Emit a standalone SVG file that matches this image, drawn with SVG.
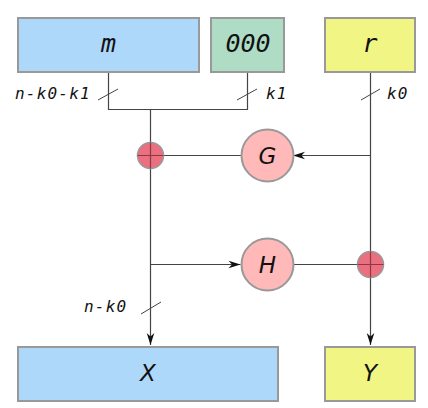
<svg xmlns="http://www.w3.org/2000/svg" width="428" height="408" viewBox="0 0 428 408">
<defs>
<style>
.box{stroke:#999;stroke-width:2}
.blue{fill:#aed8f9}
.green{fill:#aedcc5}
.yellow{fill:#f1f584}
.fn{fill:#ffb9b9;stroke:#999;stroke-width:2}
.add{fill:#ec6f80;stroke:#999;stroke-width:1.5}
.cross{stroke:#8a3a45;stroke-width:1.2}
.ln{stroke:#444;stroke-width:1.2;fill:none}
.sl{stroke:#444;stroke-width:1}
.big{font-family:"DejaVu Sans Mono",monospace;font-style:italic;font-size:25px;fill:#111;text-anchor:middle}
.sans{font-family:"DejaVu Sans",sans-serif;font-style:italic;font-size:23px;fill:#111;text-anchor:middle}
.lbl{font-family:"DejaVu Sans Mono",monospace;font-style:italic;font-size:16px;letter-spacing:1.2px;fill:#111}
</style>
<marker id="arr" viewBox="-13 -5 14 10" refX="0" refY="0" markerWidth="14" markerHeight="10" markerUnits="userSpaceOnUse" orient="auto">
<path d="M0,0 L-12,-3.8 L-8.5,0 L-12,3.8 Z" fill="#111"/>
</marker>
</defs>
<g id="connectors">
<path class="ln" d="M108.5,72 V109.5 H247.5 V72"/>
<path class="ln" d="M150.5,109.5 V345" marker-end="url(#arr)"/>
<path class="ln" d="M370.5,72 V345" marker-end="url(#arr)"/>
<path class="ln" d="M370.5,155.5 H293" marker-end="url(#arr)"/>
<path class="ln" d="M241,155.5 H150.5"/>
<path class="ln" d="M150.5,264.5 H240.5" marker-end="url(#arr)"/>
<path class="ln" d="M294,264.5 H370.5"/>
<line class="sl" x1="98" y1="100" x2="118" y2="89"/>
<line class="sl" x1="237" y1="100" x2="257" y2="89"/>
<line class="sl" x1="361" y1="100" x2="380" y2="89"/>
<line class="sl" x1="141" y1="314" x2="161" y2="302"/>
<text class="lbl" x="15" y="99">n-k0-k1</text>
<text class="lbl" x="266" y="99">k1</text>
<text class="lbl" x="387" y="99">k0</text>
<text class="lbl" x="84" y="312">n-k0</text>
</g>
<g id="m"><rect class="box blue" x="18" y="18" width="181" height="54"/><text class="big" x="108.5" y="52">m</text></g>
<g id="zeros"><rect class="box green" x="211" y="18" width="73" height="54"/><text class="big" x="248" y="52">000</text></g>
<g id="r"><rect class="box yellow" x="325" y="18" width="90" height="54"/><text class="big" x="370" y="52">r</text></g>
<g id="G"><circle class="fn" cx="267.5" cy="155.5" r="26"/><text class="sans" x="267.5" y="163.5">G</text></g>
<g id="H"><circle class="fn" cx="267.5" cy="264.5" r="26"/><text class="sans" x="267.5" y="272.5">H</text></g>
<g id="xor1"><circle class="add" cx="150.5" cy="155.5" r="13"/><path class="cross" d="M150.5,142.5 V168.5 M137.5,155.5 H163.5"/></g>
<g id="xor2"><circle class="add" cx="370.5" cy="264.5" r="13"/><path class="cross" d="M370.5,251.5 V277.5 M357.5,264.5 H383.5"/></g>
<g id="X"><rect class="box blue" x="18" y="347" width="260" height="54"/><text class="sans" x="148" y="381">X</text></g>
<g id="Y"><rect class="box yellow" x="325" y="347" width="90" height="54"/><text class="sans" x="370" y="381">Y</text></g>
</svg>
